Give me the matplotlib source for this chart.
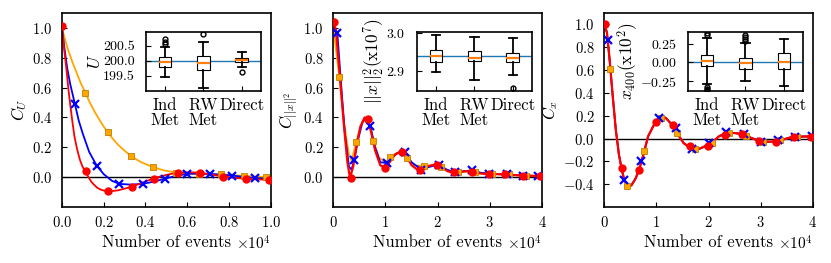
import numpy as np
import matplotlib.pyplot as plt

plt.rcParams['font.family'] = 'serif'
plt.rcParams['font.serif'] = ['cmr10']
plt.rcParams['mathtext.fontset'] = 'cm'
plt.rcParams['axes.formatter.use_mathtext'] = True
plt.rcParams['font.size'] = 12
plt.rcParams['xtick.labelsize'] = 10.5
plt.rcParams['ytick.labelsize'] = 10.5
plt.rcParams['xtick.direction'] = 'in'
plt.rcParams['ytick.direction'] = 'in'
plt.rcParams['xtick.major.pad'] = 6
plt.rcParams['ytick.major.pad'] = 7
plt.rcParams['axes.linewidth'] = 1.2

# x in units of 1e4 events
# ---- panel 1: C_U ----
u_red_x = [0.0, 0.113, 0.222, 0.334, 0.442, 0.554, 0.663, 0.773, 0.883, 0.99]
u_red_y = [1.01, 0.038, -0.09, -0.069, -0.009, 0.031, 0.027, 0.004, -0.013, -0.018]
u_blue_x = [0.062, 0.166, 0.275, 0.387, 0.492, 0.599, 0.709, 0.816, 0.925]
u_blue_y = [0.49, 0.078, -0.045, -0.045, -0.011, 0.022, 0.022, 0.011, -0.007]
u_orange_x = [0.112, 0.219, 0.329, 0.436, 0.546, 0.657, 0.762, 0.871, 0.978]
u_orange_y = [0.566, 0.30, 0.145, 0.067, 0.031, 0.02, 0.018, 0.009, 0.0]

u_red_line_x = [0, 0.01, 0.02, 0.03, 0.04, 0.05, 0.06, 0.072, 0.085, 0.097, 0.11, 0.125, 0.14,
                0.155, 0.17, 0.185, 0.2, 0.23, 0.27, 0.33, 0.38, 0.44, 0.5, 0.55, 0.6, 0.66,
                0.72, 0.77, 0.83, 0.88, 0.94, 1.0]
u_red_line_y = [1.0, 0.86, 0.74, 0.6, 0.48, 0.37, 0.27, 0.19, 0.12, 0.075, 0.04, 0.005, -0.03,
                -0.053, -0.072, -0.083, -0.09, -0.095, -0.088, -0.066, -0.04, -0.007, 0.015, 0.03, 0.033, 0.03,
                0.016, 0.005, -0.005, -0.011, -0.015, -0.018]
u_blue_line_x = [0, 0.012, 0.025, 0.04, 0.062, 0.08, 0.1, 0.13, 0.166, 0.2, 0.24, 0.275, 0.33, 0.387,
                 0.44, 0.492, 0.55, 0.6, 0.65, 0.709, 0.76, 0.816, 0.87, 0.925, 1.0]
u_blue_line_y = [1.0, 0.86, 0.73, 0.62, 0.49, 0.38, 0.29, 0.17, 0.078, 0.02, -0.025, -0.045, -0.05, -0.045,
                 -0.03, -0.011, 0.01, 0.022, 0.024, 0.022, 0.017, 0.011, 0.002, -0.007, -0.01]
u_orange_line_x = [0, 0.015, 0.03, 0.05, 0.07, 0.09, 0.112, 0.135, 0.16, 0.19, 0.219, 0.245, 0.27,
                   0.3, 0.329, 0.355, 0.38, 0.41, 0.436, 0.49, 0.546, 0.6, 0.657, 0.71, 0.762, 0.82,
                   0.871, 0.93, 0.978, 1.0]
u_orange_line_y = [1.0, 0.92, 0.85, 0.77, 0.70, 0.63, 0.566, 0.495, 0.43, 0.36, 0.30, 0.255, 0.215,
                   0.177, 0.145, 0.12, 0.10, 0.082, 0.067, 0.045, 0.031, 0.024, 0.02, 0.019, 0.018, 0.013,
                   0.009, 0.004, 0.0, 0.0]

# ---- panel 2: C_||x||^2 ----
n_red_x = [0.02, 0.33, 0.67, 1.0, 1.32, 1.66, 1.99, 2.31, 2.65, 2.98, 3.30, 3.64, 3.97]
n_red_y = [1.04, -0.007, 0.39, 0.06, 0.17, 0.047, 0.083, 0.032, 0.036, 0.023, 0.018, 0.011, 0.007]
n_blue_x = [0.077, 0.40, 0.71, 1.03, 1.37, 1.69, 2.02, 2.33, 2.66, 2.99, 3.32, 3.64, 3.92]
n_blue_y = [0.966, 0.113, 0.342, 0.095, 0.17, 0.05, 0.083, 0.032, 0.045, 0.023, 0.018, 0.011, 0.007]
n_orange_x = [0.115, 0.44, 0.77, 1.09, 1.41, 1.74, 2.07, 2.39, 2.72, 3.04, 3.37, 3.70, 3.99]
n_orange_y = [0.673, 0.236, 0.241, 0.135, 0.128, 0.072, 0.065, 0.034, 0.034, 0.023, 0.018, 0.011, 0.007]

n_red_line_x = [0, 0.05, 0.12, 0.2, 0.27, 0.32, 0.38, 0.45, 0.52, 0.6, 0.66, 0.72, 0.8, 0.9,
                1.0, 1.08, 1.18, 1.3, 1.4, 1.5, 1.62, 1.72, 1.82, 1.96, 2.08, 2.2, 2.3, 2.42,
                2.55, 2.65, 2.78, 2.9, 3.0, 3.15, 3.3, 3.45, 3.62, 3.8, 4.0]
n_red_line_y = [1.06, 0.98, 0.70, 0.36, 0.10, -0.005, 0.07, 0.22, 0.34, 0.40, 0.39, 0.31, 0.18, 0.08,
                0.06, 0.10, 0.15, 0.175, 0.14, 0.08, 0.048, 0.055, 0.075, 0.085, 0.065, 0.038, 0.032, 0.035,
                0.04, 0.036, 0.026, 0.022, 0.023, 0.02, 0.018, 0.014, 0.011, 0.009, 0.007]
n_blue_line_x = [0, 0.077, 0.15, 0.22, 0.3, 0.35, 0.4, 0.48, 0.56, 0.63, 0.71, 0.8, 0.9, 1.03,
                 1.12, 1.22, 1.37, 1.5, 1.69, 1.85, 2.02, 2.18, 2.33, 2.5, 2.66, 2.82, 2.99,
                 3.15, 3.32, 3.5, 3.64, 3.8, 4.0]
n_blue_line_y = [1.03, 0.966, 0.62, 0.30, 0.07, 0.05, 0.113, 0.26, 0.37, 0.395, 0.342, 0.2, 0.1, 0.095,
                 0.13, 0.16, 0.17, 0.1, 0.05, 0.07, 0.083, 0.05, 0.032, 0.04, 0.045, 0.03, 0.023,
                 0.02, 0.018, 0.014, 0.011, 0.009, 0.007]
n_orange_line_x = [0, 0.115, 0.2, 0.3, 0.35, 0.44, 0.52, 0.6, 0.68, 0.77, 0.88, 1.0, 1.09, 1.2,
                   1.32, 1.41, 1.55, 1.74, 1.9, 2.07, 2.22, 2.39, 2.55, 2.72, 2.88, 3.04, 3.2,
                   3.37, 3.55, 3.70, 3.85, 4.0]
n_orange_line_y = [1.0, 0.673, 0.38, 0.15, 0.11, 0.236, 0.34, 0.385, 0.36, 0.241, 0.13, 0.1, 0.135, 0.16,
                   0.165, 0.128, 0.08, 0.072, 0.078, 0.065, 0.04, 0.034, 0.036, 0.034, 0.026, 0.023, 0.02,
                   0.018, 0.014, 0.011, 0.009, 0.007]

# ---- panel 3: C_x ----
x_red_x = [0.01, 0.33, 0.66, 1.0, 1.32, 1.65, 1.98, 2.31, 2.64, 2.97, 3.30, 3.64, 3.97]
x_red_y = [1.0, -0.262, -0.273, 0.145, 0.119, -0.067, -0.061, 0.035, 0.044, -0.02, -0.026, 0.012, 0.017]
x_blue_x = [0.077, 0.38, 0.71, 1.04, 1.37, 1.68, 2.01, 2.34, 2.67, 3.0, 3.33, 3.66, 3.98]
x_blue_y = [0.866, -0.36, -0.195, 0.177, 0.096, -0.096, -0.04, 0.055, 0.038, -0.026, -0.015, 0.017, 0.02]
x_orange_x = [0.11, 0.43, 0.76, 1.08, 1.40, 1.74, 2.06, 2.39, 2.72, 3.04, 3.37, 3.69, 3.99]
x_orange_y = [0.61, -0.413, -0.113, 0.183, 0.047, -0.09, -0.035, 0.052, 0.023, -0.026, -0.017, 0.017, 0.017]

x_line_x = [0, 0.05, 0.1, 0.16, 0.22, 0.28, 0.33, 0.38, 0.45, 0.52, 0.6, 0.67, 0.75, 0.84,
            0.94, 1.02, 1.1, 1.18, 1.26, 1.34, 1.42, 1.52, 1.62, 1.72, 1.82, 1.92, 2.0, 2.1,
            2.2, 2.3, 2.4, 2.5, 2.62, 2.72, 2.82, 2.95, 3.05, 3.15, 3.3, 3.42, 3.55, 3.7, 3.85, 4.0]
x_line_y = [1.0, 0.93, 0.70, 0.38, 0.08, -0.14, -0.26, -0.36, -0.42, -0.41, -0.35, -0.27, -0.14, 0.02,
            0.11, 0.165, 0.195, 0.18, 0.14, 0.105, 0.03, -0.04, -0.072, -0.095, -0.09, -0.07, -0.055, -0.02,
            0.02, 0.04, 0.05, 0.048, 0.04, 0.025, 0.005, -0.018, -0.025, -0.028, -0.025, -0.01, 0.008, 0.016,
            0.018, 0.018]

# ---- inset box summaries (Ind Met, RW Met, Direct) ----
box_labels = ['Ind\nMet', 'RW\nMet', 'Direct']

u_med = [199.95, 199.91, 200.01]
u_q1 = [199.79, 199.68, 199.95]
u_q3 = [200.11, 200.15, 200.09]
u_lo = [199.45, 199.08, 199.78]
u_hi = [200.45, 200.64, 200.31]
u_fliers = [[200.55, 200.63, 200.72], [200.89], [199.62]]
u_true = 200.0

n_med = [2.939, 2.936, 2.934]
n_q1 = [2.923, 2.926, 2.923]
n_q3 = [2.957, 2.953, 2.949]
n_lo = [2.898, 2.876, 2.889]
n_hi = [2.996, 2.990, 2.988]
n_fliers = [[], [], [2.854]]
n_true = 2.939

x_med = [0.017, -0.013, 0.008]
x_q1 = [-0.045, -0.089, -0.089]
x_q3 = [0.10, 0.057, 0.12]
x_lo = [-0.28, -0.245, -0.306]
x_hi = [0.33, 0.26, 0.31]
x_fliers = [[0.36, 0.39, -0.32, -0.35, -0.36], [0.29, 0.31, 0.34, 0.37], []]
x_true = 0.0


def draw_main(ax, red, blue, orange, xticks, ylo, yticks, ylabel):
    for (lx, ly, mx, my, col, mk, ms, lw) in [orange, blue, red]:
        ax.plot(np.array(lx) * 1e4, ly, color=col, lw=lw, zorder=2)
    for (lx, ly, mx, my, col, mk, ms, lw) in [orange, blue, red]:
        if mk == 's':
            ax.plot(np.array(mx) * 1e4, my, ls='none', marker='s', ms=ms, mfc=col,
                    mec='#c08000', mew=0.6, zorder=3)
        elif mk == 'x':
            ax.plot(np.array(mx) * 1e4, my, ls='none', marker='x', ms=ms, color=col,
                    mew=1.6, zorder=3)
        else:
            ax.plot(np.array(mx) * 1e4, my, ls='none', marker='o', ms=ms, color=col, zorder=3)
    ax.axhline(0, color='black', lw=1.0, zorder=1)
    ax.set_xticks(np.array(xticks) * 1e4)
    ax.set_xlim(0, xticks[-1] * 1e4)
    ax.set_ylim(ylo, 1.1)
    ax.set_yticks(yticks)
    ax.ticklabel_format(axis='x', style='sci', scilimits=(0, 0))
    ax.xaxis.get_offset_text().set_fontsize(11)
    ax.set_xlabel('Number of events', labelpad=3)
    ax.set_ylabel(ylabel, labelpad=2)


def draw_inset(ax, med, q1, q3, lo, hi, fliers, true, ylim, yticks, ylabel):
    stats = []
    for i in range(3):
        stats.append(dict(med=med[i], q1=q1[i], q3=q3[i], whislo=lo[i], whishi=hi[i],
                          fliers=fliers[i]))
    ax.axhline(true, color='#1f77b4', lw=1.0, zorder=1)
    ax.bxp(stats, positions=[1, 2, 3], widths=0.33, capwidths=0.22, patch_artist=True,
           boxprops=dict(facecolor='white', edgecolor='black', lw=0.8),
           medianprops=dict(color='#ff7f0e', lw=1.6),
           whiskerprops=dict(color='black', lw=1.3),
           capprops=dict(color='black', lw=1.3),
           flierprops=dict(marker='o', mfc='none', mec='black', ms=3.5, mew=1.0))
    ax.set_xlim(0.5, 3.5)
    ax.set_ylim(*ylim)
    ax.set_yticks(yticks)
    ax.set_xticks([1, 2, 3])
    ax.set_xticklabels(box_labels, linespacing=1.0, fontsize=12)
    ax.tick_params(axis='y', pad=8, labelsize=10)
    ax.tick_params(axis='x', pad=5)
    ax.set_ylabel(ylabel, labelpad=0, fontsize=12.5)


fig = plt.figure(figsize=(8.31, 2.63), dpi=100)
ax1 = fig.add_axes([0.0746, 0.2129, 0.2511, 0.7376])
ax2 = fig.add_axes([0.4011, 0.2129, 0.2511, 0.7376])
ax3 = fig.add_axes([0.7272, 0.2129, 0.2511, 0.7376])

draw_main(ax1,
          (u_red_line_x, u_red_line_y, u_red_x, u_red_y, 'red', 'o', 5, 1.3),
          (u_blue_line_x, u_blue_line_y, u_blue_x, u_blue_y, 'blue', 'x', 5.5, 1.3),
          (u_orange_line_x, u_orange_line_y, u_orange_x, u_orange_y, 'orange', 's', 4.5, 1.3),
          [0, 0.2, 0.4, 0.6, 0.8, 1.0], -0.2, np.arange(0, 1.01, 0.2), r'$C_U$')
draw_main(ax2,
          (n_red_line_x, n_red_line_y, n_red_x, n_red_y, 'red', 'o', 5, 1.6),
          (n_blue_line_x, n_blue_line_y, n_blue_x, n_blue_y, 'blue', 'x', 5.5, 1.3),
          (n_orange_line_x, n_orange_line_y, n_orange_x, n_orange_y, 'orange', 's', 4.5, 1.3),
          [0, 1, 2, 3, 4], -0.2, np.arange(0, 1.01, 0.2), r'$C_{||x||^2}$')
draw_main(ax3,
          (x_line_x, x_line_y, x_red_x, x_red_y, 'red', 'o', 5, 1.6),
          (x_line_x, x_line_y, x_blue_x, x_blue_y, 'blue', 'x', 5.5, 1.3),
          (x_line_x, x_line_y, x_orange_x, x_orange_y, 'orange', 's', 4.5, 1.3),
          [0, 1, 2, 3, 4], -0.6, np.arange(-0.4, 1.01, 0.2), r'$C_x$')

in1 = fig.add_axes([0.1753, 0.655, 0.1388, 0.222])
in2 = fig.add_axes([0.5014, 0.655, 0.1388, 0.222])
in3 = fig.add_axes([0.8276, 0.655, 0.1388, 0.222])

draw_inset(in1, u_med, u_q1, u_q3, u_lo, u_hi, u_fliers, u_true, (199.0, 200.95),
           [199.5, 200.0, 200.5], r'$U$')
in1.yaxis.set_major_formatter(plt.FormatStrFormatter('%.1f'))
draw_inset(in2, n_med, n_q1, n_q3, n_lo, n_hi, n_fliers, n_true, (2.848, 3.003),
           [2.9, 3.0], r'$||x||_2^2(\mathrm{x}10^7)$')
draw_inset(in3, x_med, x_q1, x_q3, x_lo, x_hi, x_fliers, x_true, (-0.375, 0.40),
           [-0.25, 0.0, 0.25], r'$x_{400}(\mathrm{x}10^2)$')

fig.savefig('out.png', dpi=100)
